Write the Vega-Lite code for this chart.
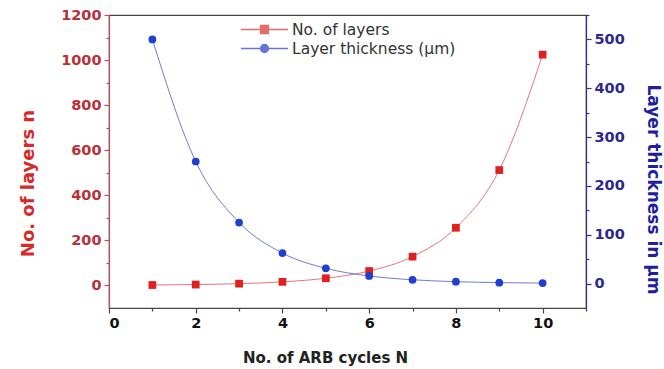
{
  "$schema": "https://vega.github.io/schema/vega-lite/v6.json",
  "width": 477,
  "height": 293,
  "autosize": {"type": "none"},
  "padding": {"left": 109, "top": 15, "right": 78, "bottom": 61},
  "background": "white",
  "config": {
    "view": {"stroke": "#444", "strokeWidth": 1.2},
    "font": "DejaVu Sans",
    "axis": {"labelFont": "DejaVu Sans", "labelFontWeight": "bold", "labelFontSize": 14.5, "titleFont": "DejaVu Sans", "titleFontWeight": "bold", "grid": false, "domainWidth": 1.2, "tickWidth": 1.2, "labelPadding": 3}
  },
  "data": {
    "values": [
      {"series": "No. of layers", "N": 1, "value": 2},
      {"series": "No. of layers", "N": 2, "value": 4},
      {"series": "No. of layers", "N": 3, "value": 8},
      {"series": "No. of layers", "N": 4, "value": 16},
      {"series": "No. of layers", "N": 5, "value": 32},
      {"series": "No. of layers", "N": 6, "value": 64},
      {"series": "No. of layers", "N": 7, "value": 128},
      {"series": "No. of layers", "N": 8, "value": 256},
      {"series": "No. of layers", "N": 9, "value": 512},
      {"series": "No. of layers", "N": 10, "value": 1024},
      {"series": "Layer thickness (µm)", "N": 1, "value": 500},
      {"series": "Layer thickness (µm)", "N": 2, "value": 250},
      {"series": "Layer thickness (µm)", "N": 3, "value": 125},
      {"series": "Layer thickness (µm)", "N": 4, "value": 62.5},
      {"series": "Layer thickness (µm)", "N": 5, "value": 31.25},
      {"series": "Layer thickness (µm)", "N": 6, "value": 15.6},
      {"series": "Layer thickness (µm)", "N": 7, "value": 7.8},
      {"series": "Layer thickness (µm)", "N": 8, "value": 3.9},
      {"series": "Layer thickness (µm)", "N": 9, "value": 1.95},
      {"series": "Layer thickness (µm)", "N": 10, "value": 0.98}
    ]
  },
  "encoding": {
    "x": {
      "field": "N", "type": "quantitative",
      "scale": {"domain": [0, 11], "nice": false},
      "axis": {
        "title": "No. of ARB cycles N",
        "values": [0, 1, 2, 3, 4, 5, 6, 7, 8, 9, 10, 11],
        "labelExpr": "datum.value % 2 === 0 && datum.value <= 10 ? datum.label : ''",
        "tickSize": {"condition": {"test": "datum.value % 2 === 0", "value": 5}, "value": 3},
        "labelColor": "#111", "domainColor": "#444", "tickColor": "#444",
        "titleFontSize": 15, "titleColor": "#222",
        "titleX": 216, "titleY": 49, "titleBaseline": "middle", "titleAnchor": null
      }
    }
  },
  "layer": [
    {
      "transform": [{"filter": "datum.series === 'No. of layers'"}],
      "encoding": {
        "y": {
          "field": "value", "type": "quantitative",
          "scale": {"domain": [-100, 1200], "nice": false, "zero": false},
          "axis": {
            "orient": "left",
            "title": "No. of layers n",
            "values": [0, 100, 200, 300, 400, 500, 600, 700, 800, 900, 1000, 1100, 1200],
            "labelExpr": "datum.value % 200 === 0 ? datum.label : ''",
            "format": "d",
            "tickSize": {"condition": {"test": "datum.value % 200 === 0", "value": 5}, "value": 3},
            "labelColor": "#b8303a", "domainColor": "#b85060", "tickColor": "#b85060",
            "titleColor": "#d42a2a", "titleFontSize": 18,
            "titleX": -81, "titleY": 168, "titleAngle": -90, "titleBaseline": "middle", "titleAlign": "center"
          }
        }
      },
      "layer": [
        {"mark": {"type": "line", "interpolate": "monotone", "color": "#e07878", "strokeWidth": 1}},
        {"mark": {"type": "point", "shape": "square", "filled": true, "color": "#e0201f", "size": 60, "opacity": 1}}
      ]
    },
    {
      "transform": [{"filter": "datum.series !== 'No. of layers'"}],
      "encoding": {
        "y": {
          "field": "value", "type": "quantitative",
          "scale": {"domain": [-50, 550], "nice": false, "zero": false},
          "axis": {
            "orient": "right",
            "title": "Layer thickness in µm",
            "values": [0, 50, 100, 150, 200, 250, 300, 350, 400, 450, 500, 550],
            "labelExpr": "datum.value % 100 === 0 ? datum.label : ''",
            "format": "d",
            "tickSize": {"condition": {"test": "datum.value % 100 === 0", "value": 5}, "value": 3},
            "labelColor": "#2a2a8a", "domainColor": "#303090", "tickColor": "#303090",
            "titleColor": "#1e1ea0", "titleFontSize": 17,
            "titleX": 66, "titleY": 174, "titleAngle": 90, "titleBaseline": "middle", "titleAlign": "center"
          }
        }
      },
      "layer": [
        {"mark": {"type": "line", "interpolate": "monotone", "color": "#6f7fc8", "strokeWidth": 1}},
        {"mark": {"type": "point", "shape": "circle", "filled": true, "color": "#1f3fd0", "size": 60, "opacity": 1}}
      ]
    },
    {
      "transform": [{"filter": "false"}],
      "mark": {"type": "point", "filled": false, "strokeWidth": 1.5},
      "encoding": {
        "color": {
          "field": "series", "type": "nominal",
          "scale": {"domain": ["No. of layers", "Layer thickness (µm)"], "range": ["#d83030", "#2a3ac0"]},
          "legend": {
            "title": null,
            "orient": "none", "legendX": 131, "legendY": 6,
            "labelFont": "DejaVu Sans", "labelFontSize": 15.5, "labelColor": "#333", "labelLimit": 300,
            "symbolSize": 2209, "symbolStrokeWidth": 1.3,
            "labelOffset": 3, "rowPadding": 2, "clipHeight": 17
          }
        },
        "shape": {
          "field": "series", "type": "nominal",
          "scale": {
            "domain": ["No. of layers", "Layer thickness (µm)"],
            "range": [
              "M-1,0H1M-0.17,-0.17H0.17V0.17H-0.17ZM-0.13,-0.13H0.13V0.13H-0.13ZM-0.09,-0.09H0.09V0.09H-0.09ZM-0.05,-0.05H0.05V0.05H-0.05ZM-0.02,-0.02H0.02V0.02H-0.02Z",
              "M-1,0H1M-0.17,0A0.17,0.17 0 1,0 0.17,0A0.17,0.17 0 1,0 -0.17,0ZM-0.13,0A0.13,0.13 0 1,0 0.13,0A0.13,0.13 0 1,0 -0.13,0ZM-0.09,0A0.09,0.09 0 1,0 0.09,0A0.09,0.09 0 1,0 -0.09,0ZM-0.05,0A0.05,0.05 0 1,0 0.05,0A0.05,0.05 0 1,0 -0.05,0Z"
            ]
          },
          "legend": {"title": null}
        }
      }
    }
  ],
  "resolve": {"scale": {"y": "independent"}}
}
